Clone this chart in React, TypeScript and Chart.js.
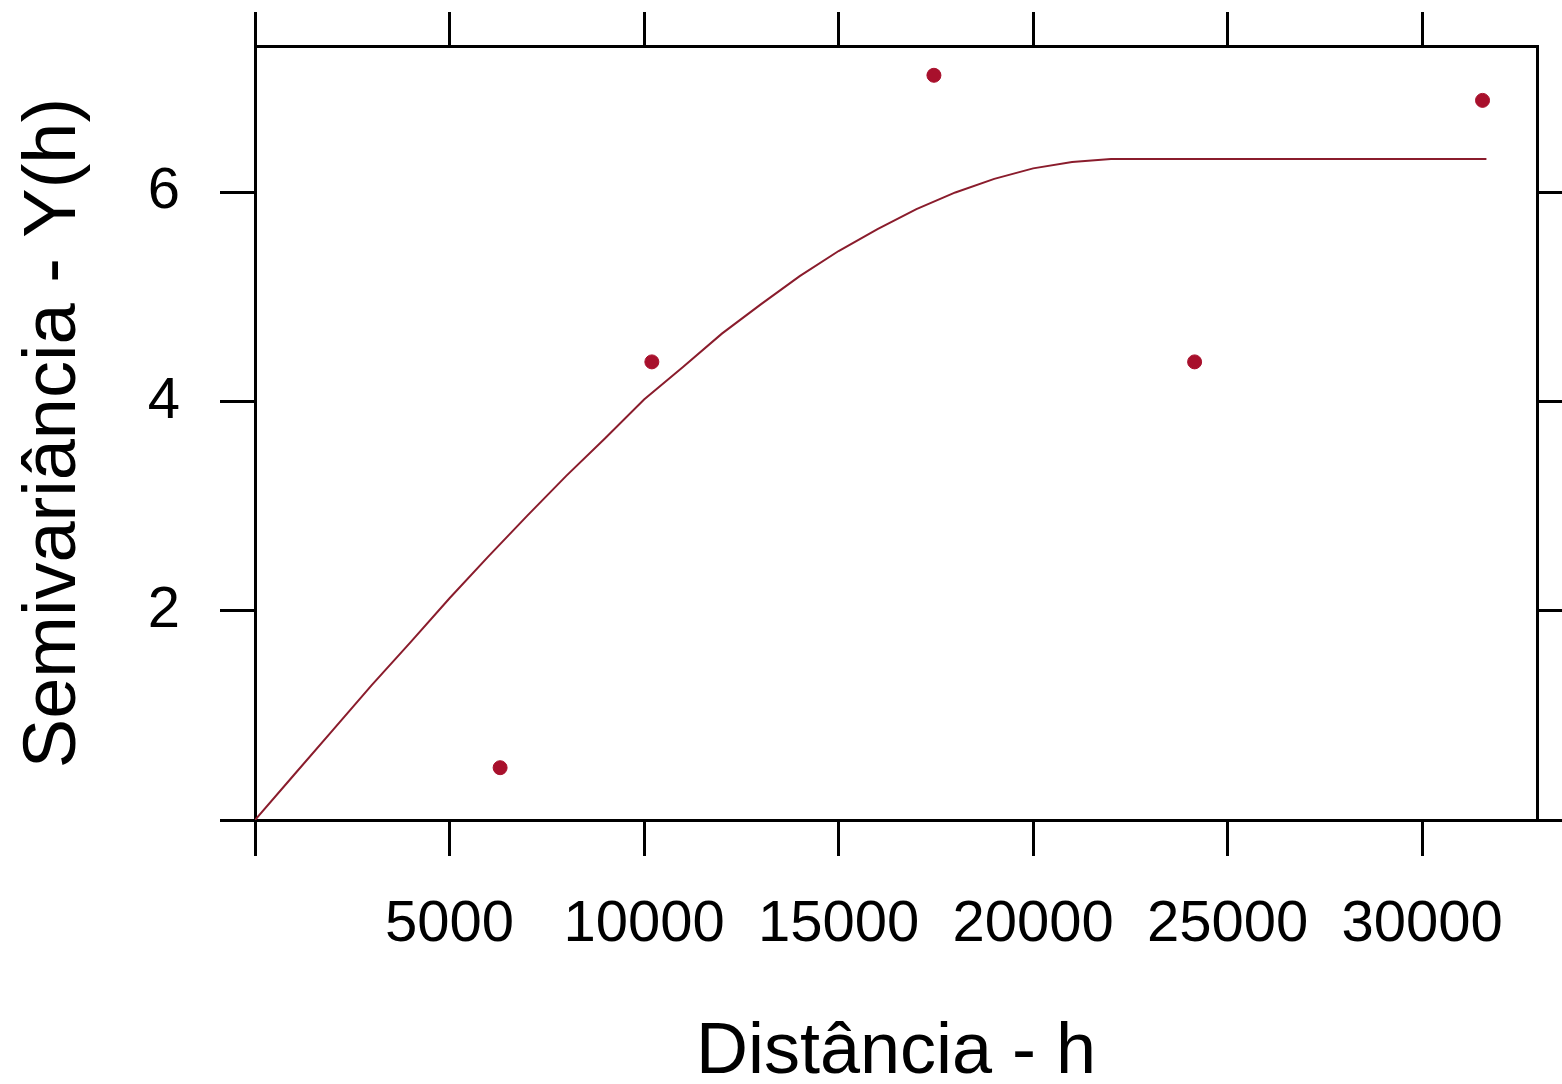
import React, { useEffect, useRef } from "react";
import { Chart, registerables } from "chart.js";

Chart.register(...registerables);

// Empirical semivariogram points (distance h, semivariance)
const pointDistances = [6300, 10200, 17450, 24150, 31550];
const pointSemivariance = [0.5, 4.38, 7.12, 4.38, 6.88];

// Fitted model curve
const curveDistances = [0, 1000, 2000, 3000, 4000, 5000, 6000, 7000, 8000, 9000, 10000, 11000, 12000, 13000, 14000, 15000, 16000, 17000, 18000, 19000, 20000, 21000, 22000, 31650];
const curveSemivariance = [0, 0.43, 0.86, 1.29, 1.7, 2.12, 2.52, 2.91, 3.29, 3.65, 4.02, 4.33, 4.65, 4.93, 5.2, 5.44, 5.65, 5.84, 6.0, 6.13, 6.23, 6.29, 6.32, 6.32];

// Axis ticks (0 gets a tick mark but no label)
const xTicks = [0, 5000, 10000, 15000, 20000, 25000, 30000];
const yTicks = [0, 2, 4, 6];

const xMin = 0;
const xMax = 32950;
const yMin = 0;
const yMax = 7.4;

const xTitle = "Distância - h";
const yTitle = "Semivariância - Y(h)";

const FONT = "'Liberation Sans', Arial, sans-serif";

export default function App() {
  const ref = useRef<HTMLCanvasElement | null>(null);

  useEffect(() => {
    if (!ref.current) return;
    const grid = (len: number) => ({
      display: true,
      drawOnChartArea: false,
      drawTicks: true,
      tickLength: len,
      tickColor: "#000",
      tickWidth: 3,
      lineWidth: 3,
      color: "#000",
    });
    const border = { display: true, color: "#000", width: 3 };
    const setX = (s: any) => {
      s.ticks = xTicks.map((v) => ({ value: v }));
    };
    const setY = (s: any) => {
      s.ticks = yTicks.map((v) => ({ value: v }));
    };
    const label = (v: any) => (Number(v) === 0 ? "" : String(v));
    const chart = new Chart(ref.current, {
      type: "scatter",
      data: {
        datasets: [
          {
            label: "model",
            data: curveDistances.map((x, i) => ({ x, y: curveSemivariance[i] })),
            showLine: true,
            borderColor: "#8a1c2c",
            borderWidth: 2,
            pointRadius: 0,
            tension: 0,
          },
          {
            label: "points",
            data: pointDistances.map((x, i) => ({ x, y: pointSemivariance[i] })),
            showLine: false,
            backgroundColor: "#a8102c",
            borderColor: "#a8102c",
            pointRadius: 7,
            pointHoverRadius: 7,
          },
        ],
      },
      options: {
        animation: false,
        responsive: false,
        layout: { padding: 0 },
        plugins: { legend: { display: false }, tooltip: { enabled: false } },
        scales: {
          x: {
            type: "linear",
            position: "bottom",
            min: xMin,
            max: xMax,
            grid: grid(36),
            border,
            afterBuildTicks: setX,
            ticks: {
              color: "#000",
              padding: 34,
              maxRotation: 0,
              minRotation: 0,
              autoSkip: false,
              font: { family: FONT, size: 58 },
              callback: label,
            },
            title: {
              display: true,
              text: xTitle,
              color: "#000",
              font: { family: FONT, size: 72, lineHeight: 0.8 },
              padding: { top: 0, bottom: 2 },
            },
            afterFit: (s: any) => {
              s.height = 264;
              s.paddingLeft = 0;
              s.paddingRight = 0;
            },
          },
          x2: {
            type: "linear",
            position: "top",
            min: xMin,
            max: xMax,
            grid: grid(34),
            border,
            afterBuildTicks: setX,
            ticks: { display: false },
            afterFit: (s: any) => {
              s.height = 46;
              s.paddingLeft = 0;
              s.paddingRight = 0;
            },
          },
          y: {
            type: "linear",
            position: "left",
            min: yMin,
            max: yMax,
            grid: grid(35),
            border,
            afterBuildTicks: setY,
            ticks: {
              color: "#000",
              padding: 40,
              font: { family: FONT, size: 58 },
              callback: label,
            },
            title: {
              display: true,
              text: yTitle,
              color: "#000",
              font: { family: FONT, size: 74, lineHeight: 0.8 },
              padding: { top: 25, bottom: 0 },
            },
            afterFit: (s: any) => {
              s.width = 255;
              s.paddingTop = 0;
              s.paddingBottom = 0;
            },
          },
          y2: {
            type: "linear",
            position: "right",
            min: yMin,
            max: yMax,
            grid: grid(30),
            border,
            afterBuildTicks: setY,
            ticks: { display: false },
            afterFit: (s: any) => {
              s.width = 25;
              s.paddingTop = 0;
              s.paddingBottom = 0;
            },
          },
        },
      },
    });
    return () => chart.destroy();
  }, []);

  return (
    <div style={{ position: "absolute", left: 0, top: 0, width: 1562, height: 1084, background: "#fff" }}>
      <canvas ref={ref} width={1562} height={1084} style={{ display: "block" }} />
    </div>
  );
}
